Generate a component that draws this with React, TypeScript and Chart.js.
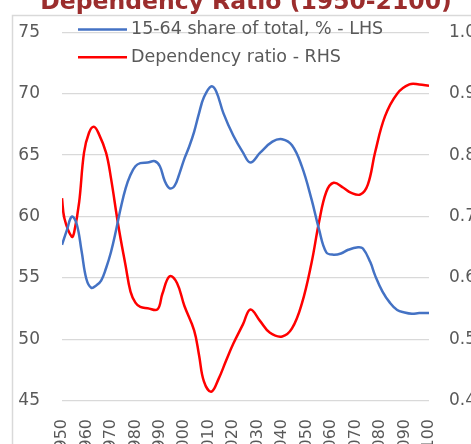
import { useEffect, useRef } from "react";
import { Chart, registerables } from "chart.js";

Chart.register(...registerables);

const TITLE = "Dependency Ratio (1950-2100)";
const SHARE_LABEL = "15-64 share of total, % - LHS";
const RATIO_LABEL = "Dependency ratio - RHS";

const shareYears = [
  1950, 1952, 1954, 1956, 1958, 1960, 1962, 1964, 1966, 1968, 1970, 1972, 1974, 1976, 1978,
  1980, 1982, 1985, 1988, 1990, 1992, 1994, 1996, 1998, 2000, 2002, 2004, 2006, 2008, 2011,
  2013, 2016, 2020, 2024, 2027, 2031, 2036, 2040, 2044, 2048, 2052, 2055, 2058, 2061, 2064,
  2067, 2071, 2073, 2076, 2078, 2081, 2084, 2087, 2090, 2093, 2096, 2100,
];
const shareValues = [
  57.7, 58.9, 60.0, 59.4, 57.2, 54.9, 54.2, 54.4, 54.8, 55.8, 57.1, 58.8, 60.7, 62.3, 63.4,
  64.1, 64.35, 64.4, 64.5, 64.1, 62.9, 62.3, 62.5, 63.5, 64.7, 65.7, 66.9, 68.4, 69.7, 70.6,
  70.2, 68.4, 66.6, 65.2, 64.4, 65.2, 66.1, 66.3, 65.8, 64.1, 61.4, 59.0, 57.1, 56.9, 57.0,
  57.3, 57.5, 57.4, 56.3, 55.2, 53.9, 53.0, 52.4, 52.2, 52.1, 52.15, 52.15,
];

const ratioYears = [
  1950, 1951, 1954, 1955, 1957, 1959, 1961, 1963, 1965, 1968, 1970, 1973, 1976, 1978, 1980,
  1982, 1985, 1989, 1991, 1994, 1997, 2000, 2004, 2006, 2008, 2011, 2014, 2017, 2020, 2024,
  2027, 2031, 2035, 2040, 2044, 2048, 2052, 2055, 2058, 2061, 2065, 2068, 2072, 2075, 2078,
  2082, 2087, 2092, 2096, 2100,
];
const ratioValues = [
  0.73, 0.697, 0.667, 0.675, 0.723, 0.804, 0.836, 0.846, 0.835, 0.804, 0.763, 0.686, 0.62, 0.578, 0.56,
  0.553, 0.551, 0.549, 0.574, 0.603, 0.592, 0.555, 0.515, 0.475, 0.432, 0.415, 0.436, 0.465, 0.493, 0.525,
  0.549, 0.53, 0.511, 0.505, 0.518, 0.558, 0.625, 0.69, 0.74, 0.755, 0.747, 0.739, 0.736, 0.752, 0.805,
  0.863, 0.9, 0.915, 0.915, 0.913,
];

const xTicks = [1950, 1960, 1970, 1980, 1990, 2000, 2010, 2020, 2030, 2040, 2050, 2060, 2070, 2080, 2090, 2100];

const FONT = "'DejaVu Sans', sans-serif";
const TEXT = "#595959";
const GRID = "#d9d9d9";
const BLUE = "#4472C4";
const RED = "#FF0000";

const framePlugin = {
  id: "frameTitle",
  beforeDraw(chart: any) {
    const ctx = chart.ctx;
    ctx.save();
    ctx.fillStyle = "#ffffff";
    ctx.fillRect(0, 0, chart.width, chart.height);
    ctx.strokeStyle = GRID;
    ctx.lineWidth = 1.5;
    ctx.beginPath();
    ctx.moveTo(12.5, chart.height + 2);
    ctx.lineTo(12.5, 15.5);
    ctx.lineTo(chart.width + 2, 15.5);
    ctx.stroke();
    ctx.fillStyle = "#9B2D2D";
    ctx.font = `bold 23.5px ${FONT}`;
    ctx.textAlign = "center";
    ctx.textBaseline = "alphabetic";
    ctx.fillText(TITLE, 246, 8.5);
    ctx.restore();
  },
};

const legendPlugin = {
  id: "inlineLegend",
  afterDatasetsDraw(chart: any) {
    const ctx = chart.ctx;
    const rows = [29.5, 57.3];
    ctx.save();
    chart.data.datasets.forEach((ds: any, i: number) => {
      const y = rows[i];
      ctx.strokeStyle = ds.borderColor;
      ctx.lineWidth = 2.5;
      ctx.beginPath();
      ctx.moveTo(78, y);
      ctx.lineTo(127, y);
      ctx.stroke();
      ctx.fillStyle = TEXT;
      ctx.font = `17.5px ${FONT}`;
      ctx.textAlign = "left";
      ctx.textBaseline = "middle";
      ctx.fillText(ds.label, 131, y);
    });
    ctx.restore();
  },
};

export default function App() {
  const ref = useRef<HTMLCanvasElement | null>(null);

  useEffect(() => {
    if (!ref.current) return;
    const chart = new Chart(ref.current, {
      type: "line",
      data: {
        datasets: [
          {
            label: SHARE_LABEL,
            data: shareYears.map((x, i) => ({ x, y: shareValues[i] })),
            yAxisID: "y",
            borderColor: BLUE,
            borderWidth: 2.5,
            pointRadius: 0,
            fill: false,
            tension: 0.4,
          },
          {
            label: RATIO_LABEL,
            data: ratioYears.map((x, i) => ({ x, y: ratioValues[i] })),
            yAxisID: "y1",
            borderColor: RED,
            borderWidth: 2.5,
            pointRadius: 0,
            fill: false,
            tension: 0.4,
          },
        ],
      },
      options: {
        animation: false,
        responsive: false,
        events: [],
        layout: { padding: { top: 28, left: 0, right: 0, bottom: 0 } },
        plugins: {
          legend: { display: false },
          title: { display: false },
          tooltip: { enabled: false },
        },
        scales: {
          x: {
            type: "linear",
            min: 1950,
            max: 2100,
            afterBuildTicks: (scale: any) => {
              scale.ticks = xTicks.map((v) => ({ value: v }));
            },
            ticks: {
              autoSkip: false,
              minRotation: 90,
              maxRotation: 90,
              padding: 10,
              color: TEXT,
              font: { family: FONT, size: 16 },
              callback: (v: any) => String(v),
            },
            grid: { display: false },
            border: { display: false },
            afterFit: (s: any) => {
              s.height = 43;
            },
          },
          y: {
            position: "left",
            min: 45,
            max: 75,
            ticks: {
              stepSize: 5,
              padding: 22,
              color: TEXT,
              font: { family: FONT, size: 17 },
            },
            grid: { color: GRID, lineWidth: 1.3, drawTicks: false },
            border: { display: false },
            afterFit: (s: any) => {
              s.width = 62;
            },
          },
          y1: {
            position: "right",
            min: 0.4,
            max: 1.0,
            ticks: {
              stepSize: 0.1,
              padding: 20,
              color: TEXT,
              font: { family: FONT, size: 17 },
              callback: (v: any) => Number(v).toFixed(1),
            },
            grid: { display: false, drawTicks: false },
            border: { display: false },
            afterFit: (s: any) => {
              s.width = 42;
            },
          },
        },
      },
      plugins: [framePlugin, legendPlugin],
    } as any);
    return () => chart.destroy();
  }, []);

  return (
    <div style={{ position: "fixed", left: 0, top: 0, width: 471, height: 444, overflow: "hidden", background: "#fff" }}>
      <canvas ref={ref} width={471} height={444} style={{ display: "block", width: 471, height: 444 }} />
    </div>
  );
}
